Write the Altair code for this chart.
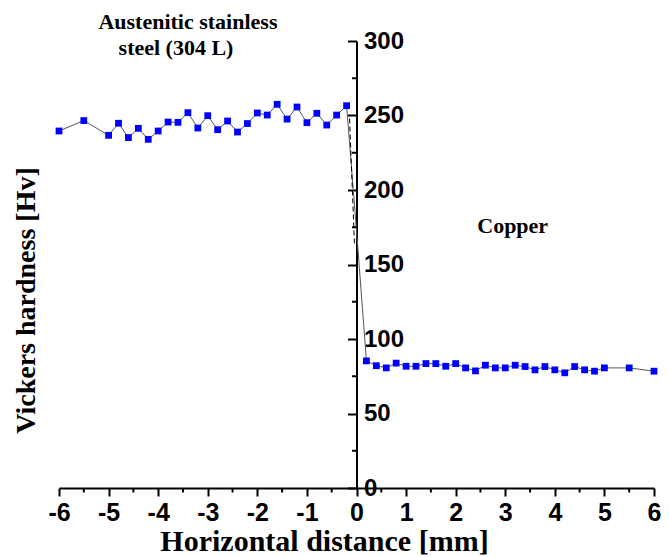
import altair as alt
import pandas as pd

# ---- data ----
steel_x = [-6.0, -5.5, -5.0, -4.8, -4.6, -4.4, -4.2, -4.0, -3.8, -3.6, -3.4, -3.2, -3.0,
           -2.8, -2.6, -2.4, -2.2, -2.0, -1.8, -1.6, -1.4, -1.2, -1.0, -0.8, -0.6, -0.4, -0.2]
steel_hv = [239.6, 246.6, 236.7, 244.8, 235.2, 241.4, 234.0, 239.6, 245.6, 245.4, 251.9, 241.6, 249.9,
            240.5, 246.3, 238.9, 244.6, 251.7, 250.3, 257.5, 247.6, 255.7, 245.2, 251.5, 243.6, 250.3, 256.6]

copper_x = [0.2, 0.4, 0.6, 0.8, 1.0, 1.2, 1.4, 1.6, 1.8, 2.0, 2.2, 2.4, 2.6, 2.8, 3.0,
            3.2, 3.4, 3.6, 3.8, 4.0, 4.2, 4.4, 4.6, 4.8, 5.0, 5.5, 6.0]
copper_hv = [85.3, 82.1, 80.6, 83.8, 81.7, 81.7, 83.5, 83.5, 81.7, 83.5, 80.6, 78.6, 82.4, 80.6, 80.6,
             82.4, 81.5, 79.3, 81.5, 79.3, 77.3, 81.5, 79.3, 78.4, 80.6, 80.6, 78.4]

interface_x = [0.03]
interface_hv = [160.0]

dash_x = [-0.14, -0.04]
dash_hv = [248.0, 163.0]

x_ticks = [-6, -5, -4, -3, -2, -1, 0, 1, 2, 3, 4, 5, 6]
x_minor = [-5.5, -4.5, -3.5, -2.5, -1.5, -0.5, 0.5, 1.5, 2.5, 3.5, 4.5, 5.5]
y_ticks = [0, 50, 100, 150, 200, 250, 300]
y_minor = [25, 75, 125, 175, 225, 275]

ann_text = ["Austenitic stainless", "steel (304 L)", "Copper"]
ann_x = [-3.40, -3.64, 3.15]
ann_y = [308.0, 290.5, 171.0]

# ---- tables ----
line_df = pd.DataFrame({
    "x": steel_x + interface_x + copper_x,
    "hv": steel_hv + interface_hv + copper_hv,
})
line_df["o"] = range(len(line_df))
pts_df = pd.DataFrame({"x": steel_x + copper_x, "hv": steel_hv + copper_hv})
dash_df = pd.DataFrame({"x": dash_x, "hv": dash_hv})
xminor_df = pd.DataFrame({"x": x_minor})
yminor_df = pd.DataFrame({"hv": y_minor})
ann_df = pd.DataFrame({"t": ann_text, "x": ann_x, "hv": ann_y})

xscale = alt.Scale(domain=[-6, 6], nice=False, zero=False)
yscale = alt.Scale(domain=[0, 300], nice=False, zero=False)

SANS = "Liberation Sans"
SERIF = "Liberation Serif"

W, H = 595, 447

xaxis = alt.Axis(
    values=x_ticks, grid=False, orient="bottom",
    domainColor="black", domainWidth=2, tickColor="black", tickWidth=2, tickSize=8,
    labelExpr="datum.value + ''", labelFont=SANS, labelFontSize=25, labelFontWeight="bold",
    labelColor="black", labelPadding=4, labelFlush=False, labelOverlap=False,
    title="Horizontal distance  [mm]", titleFont=SERIF, titleFontSize=30, titleFontWeight="bold",
    titleColor="black", titleX=265, titleY=62, titleAlign="center", titleBaseline="alphabetic",
)
yaxis = alt.Axis(
    values=y_ticks, grid=False, orient="left", offset=-(W / 2),
    domainColor="black", domainWidth=2, tickColor="black", tickWidth=2, tickSize=9,
    labelFont=SANS, labelFontSize=24, labelFontWeight="bold", labelColor="black",
    labelAlign="left", labelBaseline="middle", labelPadding=-16, labelFlush=False, labelOverlap=False,
    title="Vickers hardness [Hv]", titleFont=SERIF, titleFontSize=28, titleFontWeight="bold",
    titleColor="black", titleAngle=270, titleX=-(W / 2) - 25, titleY=259, titleAlign="center",
    titleBaseline="alphabetic",
)


def X(field):
    return alt.X(field, type="quantitative", scale=xscale, axis=xaxis)


def Y(field):
    return alt.Y(field, type="quantitative", scale=yscale, axis=yaxis)


line = alt.Chart(line_df).mark_line(color="#555555", strokeWidth=1).encode(
    x=X("x"), y=Y("hv"), order="o:Q",
)
dash = alt.Chart(dash_df).mark_line(color="black", strokeWidth=1, strokeDash=[5, 3]).encode(
    x=X("x"), y=Y("hv"),
)
pts = alt.Chart(pts_df).mark_square(color="#0000FF", size=46, opacity=1).encode(
    x=X("x"), y=Y("hv"),
)
xminor = alt.Chart(xminor_df).transform_calculate(y0="0", y1="-3").mark_rule(
    color="black", strokeWidth=2
).encode(
    x=X("x"), y=Y("y0"), y2="y1:Q",
)
yminor = alt.Chart(yminor_df).transform_calculate(x0="0", x1="-0.09").mark_rule(
    color="black", strokeWidth=2
).encode(
    y=Y("hv"), x=X("x0"), x2="x1:Q",
)
ann = alt.Chart(ann_df).mark_text(
    font=SERIF, fontSize=22, fontWeight="bold", color="black", align="center", baseline="alphabetic"
).encode(
    x=X("x"), y=Y("hv"), text="t:N",
)

chart = alt.layer(line, dash, pts, xminor, yminor, ann).properties(
    width=W, height=H,
    padding={"left": 51, "top": 33, "right": 7, "bottom": 69},
    autosize=alt.AutoSizeParams(type="none"),
    background="white",
).configure_view(stroke=None)

chart.save("out.html", embed_options={"renderer": "svg", "actions": False})
